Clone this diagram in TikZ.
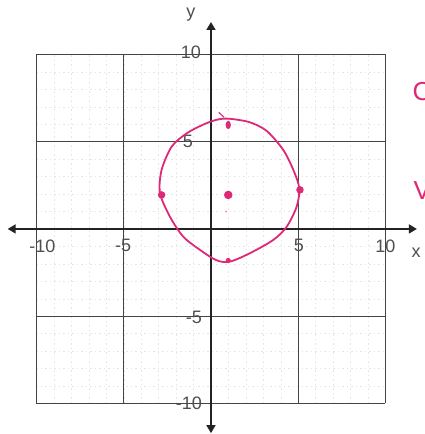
\documentclass[tikz,border=0pt]{standalone}
\usepackage{fontspec}
\setmainfont{Liberation Sans}
\usetikzlibrary{arrows.meta}
\definecolor{pen}{RGB}{222,40,120}
\definecolor{ink}{RGB}{35,35,35}
\begin{document}
\begin{tikzpicture}[x=17.45pt,y=17.45pt,
  majorline/.style={ink!85,line width=1pt},
  minorline/.style={gray!20,line width=0.4pt,dash pattern=on 1.5pt off 3pt},
  axisline/.style={ink,line width=1.6pt,{Triangle[length=8pt,width=9pt]}-{Triangle[length=8pt,width=9pt]}},
  ticklabel/.style={font=\fontsize{18}{18}\selectfont,text=ink!80,inner sep=0pt},
  penline/.style={pen,line width=1.8pt},
  pendot/.style={circle,fill=pen,inner sep=0pt,minimum size=7.5pt},
  penletter/.style={text=pen,font=\fontsize{26}{26}\selectfont,inner sep=0pt,anchor=west}]
\useasboundingbox (-12.09,-11.75) rectangle (12.26,13.12);
\fill[white] (-12.09,-11.75) rectangle (12.26,13.12);
% grid
\draw[minorline] (-10,-10) grid[step=1] (10,10);
\draw[majorline] (-10,-10) grid[step=5] (10,10);
% axes
\coordinate (xl) at (-11.65,0);
\coordinate (xr) at (11.8,0);
\coordinate (yb) at (0,-11.7);
\coordinate (yt) at (0,11.86);
\draw[axisline] (xl) -- (xr);
\draw[axisline] (yb) -- (yt);
% labels
\node[ticklabel] (xm10) at (-9.66,-0.97) {-10};
\node[ticklabel] (xm5) at (-5.04,-0.97) {-5};
\node[ticklabel] (xp5) at (5.04,-0.97) {5};
\node[ticklabel] (xp10) at (10.0,-0.97) {10};
\node[ticklabel] (xlab) at (11.75,-1.38) {x};
\node[ticklabel] (ylab) at (-1.15,12.26) {y};
\node[ticklabel] (yp10) at (-1.15,10.1) {10};
\node[ticklabel] (yp5) at (-1.32,5.0) {5};
\node[ticklabel] (ym5) at (-0.98,-5.04) {-5};
\node[ticklabel] (ym10) at (-1.26,-10.0) {-10};
% pink circle
\draw[penline] plot[smooth cycle,tension=0.5] coordinates {
  (0.99,6.32) (2.2,6.12) (3.19,5.62) (4.14,4.53) (4.72,3.38) (5.06,2.33)
  (4.91,1.28) (4.34,0.13) (3.57,-0.63) (2.23,-1.39) (1.09,-1.87) (0.33,-1.8)
  (-0.63,-1.2) (-1.59,-0.44) (-2.35,0.7) (-2.92,2.05) (-2.83,3.38) (-2.25,4.72)
  (-1.39,5.48) (-0.44,5.98) (0.3,6.25)};
\draw[penline,line width=1.1pt] (0.45,6.68) -- (0.75,6.4);
% dots
\node[pendot] (pl) at (-2.83,1.95) {};
\node[pendot] (pr) at (5.1,2.24) {};
\node[pendot,minimum size=8.5pt] (pc) at (0.99,1.95) {};
\node[pendot,minimum size=5pt] (pb) at (0.99,-1.8) {};
\fill[pen] (0.99,5.96) ellipse (2.6pt and 4.2pt);
\fill[pen!60] (0.86,0.99) circle (1pt);
% partial pink letters at right edge
\node[penletter] (c1) at (11.55,7.9) {C};
\node[penletter] (v1) at (11.6,2.2) {V};
\end{tikzpicture}
\end{document}
